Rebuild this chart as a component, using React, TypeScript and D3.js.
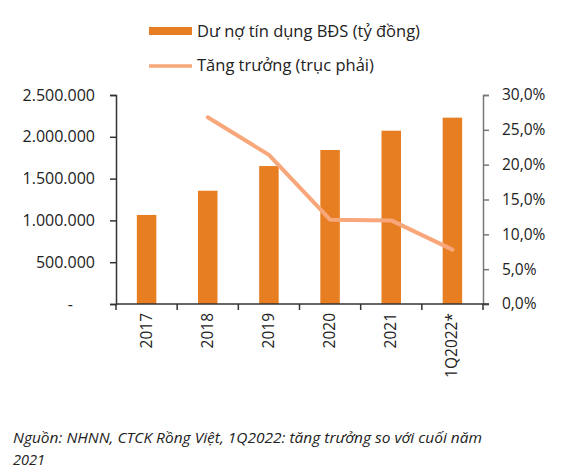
import React, { useEffect, useRef } from 'react';
import * as d3 from 'd3';

const categories = ['2017', '2018', '2019', '2020', '2021', '1Q2022*'];
const credit = [1065000, 1355000, 1650000, 1842000, 2073000, 2229000];
const growth = [null, 26.8, 21.4, 12.1, 12.0, 7.8];
const leftTicks = [0, 500000, 1000000, 1500000, 2000000, 2500000];
const rightTicks = [0, 5, 10, 15, 20, 25, 30];

const barLabel = 'Dư nợ tín dụng BĐS (tỷ đồng)';
const lineLabel = 'Tăng trưởng (trục phải)';
const note1 = 'Nguồn:  NHNN, CTCK Rồng Việt, 1Q2022: tăng trưởng so với cuối năm';
const note2 = '2021';

const W = 564;
const H = 473;
const FONT = '"Open Sans", sans-serif';

const App: React.FC = () => {
  const ref = useRef<SVGSVGElement | null>(null);

  useEffect(() => {
    if (!ref.current) return;
    const svg = d3.select(ref.current);
    svg.selectAll('*').remove();

    const m = { left: 116, right: 483, top: 95, bottom: 304 };

    const x = d3.scaleBand().domain(categories).range([m.left, m.right]).paddingInner(0).paddingOuter(0);
    const yL = d3.scaleLinear().domain([0, 2500000]).range([m.bottom, m.top]);
    const yR = d3.scaleLinear().domain([0, 30]).range([m.bottom, m.top]);
    const barW = 19.5;

    // bars
    svg.append('g')
      .selectAll('rect')
      .data(credit)
      .enter()
      .append('rect')
      .attr('x', (_, i) => x(categories[i])! + x.bandwidth() / 2 - barW / 2)
      .attr('y', (d) => yL(d))
      .attr('width', barW)
      .attr('height', (d) => m.bottom - yL(d))
      .attr('fill', '#E87E22');

    // line
    const pts = growth
      .map((g, i) => ({ g, c: categories[i] }))
      .filter((p) => p.g !== null) as { g: number; c: string }[];
    const line = d3.line<{ g: number; c: string }>()
      .x((d) => x(d.c)! + x.bandwidth() / 2)
      .y((d) => yR(d.g));
    svg.append('path')
      .datum(pts)
      .attr('fill', 'none')
      .attr('stroke', '#F8A77A')
      .attr('stroke-width', 4)
      .attr('stroke-linecap', 'round')
      .attr('stroke-linejoin', 'round')
      .attr('d', line);

    // left axis
    const left = svg.append('g').attr('transform', `translate(${m.left},0)`)
      .call(d3.axisLeft(yL).tickValues(leftTicks).tickSize(6).tickPadding(15)
        .tickFormat((d) => (+d === 0 ? '-' : d3.format(',')(+d).replace(/,/g, '.'))));
    left.select('.domain').attr('stroke', '#333').attr('stroke-width', 1.5);
    left.selectAll('.tick line').attr('stroke', '#333').attr('stroke-width', 1.5);
    left.selectAll('text').attr('font-family', FONT).attr('font-size', 16).attr('fill', '#222');
    left.selectAll('.tick').filter((d) => +(d as number) === 0).select('text').attr('dx', -22);

    // right axis
    const right = svg.append('g').attr('transform', `translate(${m.right},0)`)
      .call(d3.axisRight(yR).tickValues(rightTicks).tickSize(6).tickPadding(13)
        .tickFormat((d) => d3.format('.1f')(+d).replace('.', ',') + '%'));
    right.select('.domain').attr('stroke', '#777').attr('stroke-width', 1.5);
    right.selectAll('.tick line').attr('stroke', '#777').attr('stroke-width', 1.5);
    right.selectAll('text').attr('font-family', FONT).attr('font-size', 15.5).attr('fill', '#222');

    // bottom axis
    const bottom = svg.append('g').attr('transform', `translate(0,${m.bottom})`);
    bottom.append('line').attr('x1', m.left).attr('x2', m.right + 6).attr('stroke', '#333').attr('stroke-width', 1.5);
    bottom.selectAll('line.tk')
      .data(d3.range(categories.length + 1))
      .enter()
      .append('line')
      .attr('class', 'tk')
      .attr('x1', (i) => m.left + i * x.step())
      .attr('x2', (i) => m.left + i * x.step())
      .attr('y1', 0)
      .attr('y2', 6)
      .attr('stroke', '#333')
      .attr('stroke-width', 1.5);
    bottom.selectAll('text')
      .data(categories)
      .enter()
      .append('text')
      .attr('transform', (d) => `translate(${x(d)! + x.bandwidth() / 2 + 5},9) rotate(-90)`)
      .attr('text-anchor', 'end')
      .attr('font-family', FONT)
      .attr('font-size', 15.5)
      .attr('fill', '#222')
      .text((d) => d);

    // legend
    const lg = svg.append('g');
    lg.append('rect').attr('x', 149).attr('y', 27).attr('width', 43).attr('height', 8).attr('fill', '#E87E22');
    lg.append('text').attr('x', 197).attr('y', 37).attr('font-family', FONT).attr('font-size', 16.5).attr('fill', '#222').text(barLabel);
    lg.append('line').attr('x1', 149).attr('x2', 192).attr('y1', 66).attr('y2', 66).attr('stroke', '#F8A77A').attr('stroke-width', 3.5);
    lg.append('text').attr('x', 197).attr('y', 71).attr('font-family', FONT).attr('font-size', 16.5).attr('fill', '#222').text(lineLabel);

    // source note
    svg.append('text').attr('x', 13).attr('y', 443).attr('font-family', FONT).attr('font-style', 'italic')
      .attr('font-size', 14).attr('fill', '#222').attr('textLength', 469).attr('lengthAdjust', 'spacingAndGlyphs').text(note1);
    svg.append('text').attr('x', 13).attr('y', 465).attr('font-family', FONT).attr('font-style', 'italic')
      .attr('font-size', 14).attr('fill', '#222').attr('textLength', 32).attr('lengthAdjust', 'spacingAndGlyphs').text(note2);
  }, []);

  return (
    <svg ref={ref} width={W} height={H} style={{ position: 'absolute', left: 0, top: 0, background: '#fff' }} />
  );
};

export default App;
